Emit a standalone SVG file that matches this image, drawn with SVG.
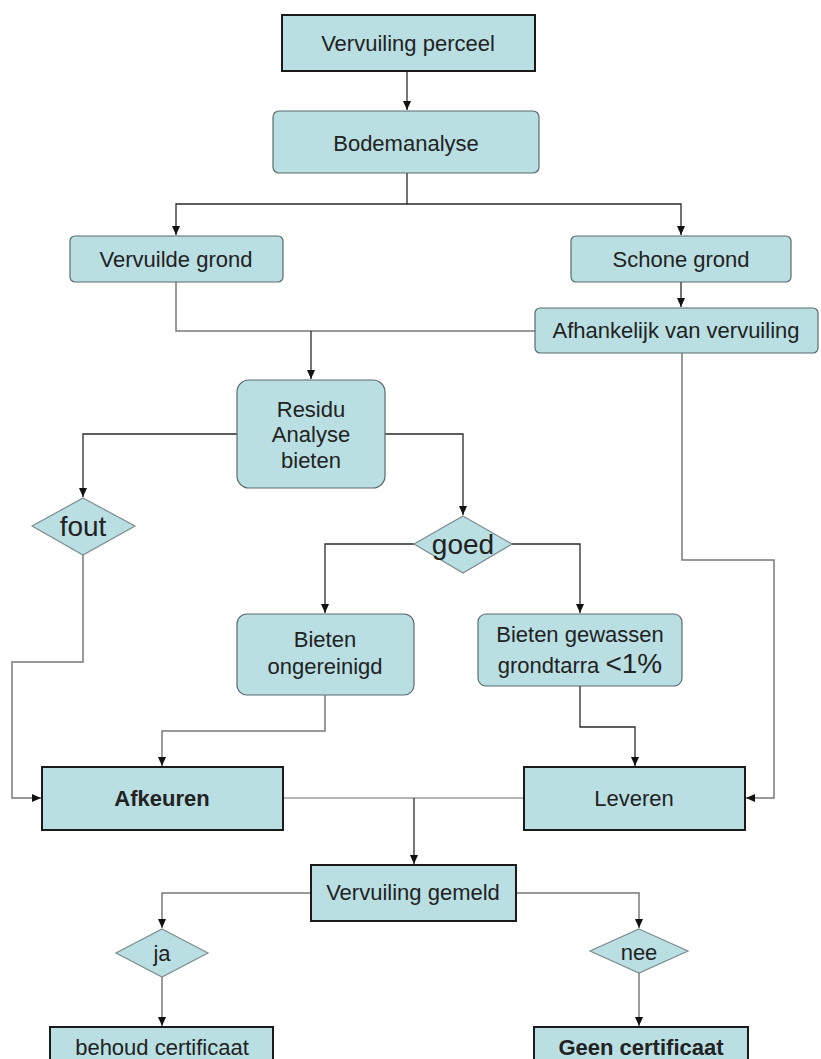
<svg xmlns="http://www.w3.org/2000/svg" width="821" height="1059" viewBox="0 0 821 1059">
<defs>
<style>
.box{fill:#b9dfe2;stroke:#5a6a6c;stroke-width:1.2}
.bx{fill:#b9dfe2;stroke:#1a1a1a;stroke-width:2}
.dia{fill:#b9dfe2;stroke:#7d8c8e;stroke-width:1.2}
text{font-family:"Liberation Sans",Arial,sans-serif;font-size:22px;fill:#222;text-anchor:middle}
.big{font-size:28px}
.b{font-weight:bold}
.dk{fill:none;stroke:#2a2a2a;stroke-width:1.3}
.gr{fill:none;stroke:#7a7a7a;stroke-width:1.5}
.lt{fill:none;stroke:#b5b5b5;stroke-width:2}
</style>
<marker id="ah" markerWidth="10" markerHeight="10" refX="9" refY="4" orient="auto" markerUnits="userSpaceOnUse">
<path d="M0,0 L9,4 L0,8 Z" fill="#111"/>
</marker>
</defs>
<rect width="821" height="1059" fill="#fff"/>
<g id="connectors">
<path class="dk" d="M407,71 V110" marker-end="url(#ah)"/>
<path class="dk" d="M407,173 V204 H176 V235" marker-end="url(#ah)"/>
<path class="dk" d="M407,204 H681 V235" marker-end="url(#ah)"/>
<path class="dk" d="M681,282 V307" marker-end="url(#ah)"/>
<path class="gr" d="M176,282 V331 H535"/>
<path class="dk" d="M311,331 V379" marker-end="url(#ah)"/>
<path class="dk" d="M237,434 H83 V497" marker-end="url(#ah)"/>
<path class="dk" d="M385,434 H463 V515" marker-end="url(#ah)"/>
<path class="dk" d="M414,544 H325 V613" marker-end="url(#ah)"/>
<path class="dk" d="M512,544 H580 V613" marker-end="url(#ah)"/>
<path class="gr" d="M83,555 V662 H12 V798 H41" marker-end="url(#ah)"/>
<path class="gr" d="M682,353 V560 H774 V798 H746" marker-end="url(#ah)"/>
<path class="gr" d="M325,695 V731 H162 V766" marker-end="url(#ah)"/>
<path class="dk" d="M580,686 V727 H635 V766" marker-end="url(#ah)"/>
<path class="lt" d="M283,798 H524"/>
<path class="dk" d="M414,798 V864" marker-end="url(#ah)"/>
<path class="gr" d="M311,893 H162 V928" marker-end="url(#ah)"/>
<path class="gr" d="M516,893 H639 V928" marker-end="url(#ah)"/>
<path class="gr" d="M162,977 V1026" marker-end="url(#ah)"/>
<path class="gr" d="M639,973 V1026" marker-end="url(#ah)"/>
</g>
<g id="n-perceel"><rect class="bx" x="282" y="15" width="253" height="56"/><text x="408" y="51">Vervuiling perceel</text></g>
<g id="n-bodem"><rect class="box" x="273" y="111" width="266" height="62" rx="6"/><text x="406" y="151">Bodemanalyse</text></g>
<g id="n-vervuilde"><rect class="box" x="70" y="236" width="213" height="46" rx="5"/><text x="176" y="267">Vervuilde grond</text></g>
<g id="n-schone"><rect class="box" x="571" y="236" width="220" height="46" rx="5"/><text x="681" y="267">Schone grond</text></g>
<g id="n-afhankelijk"><rect class="box" x="535" y="308" width="283" height="45" rx="5"/><text x="676" y="338">Afhankelijk van vervuiling</text></g>
<g id="n-residu"><rect class="box" x="237" y="380" width="148" height="108" rx="12"/><text x="311" y="417">Residu</text><text x="311" y="442">Analyse</text><text x="311" y="468">bieten</text></g>
<g id="n-fout"><polygon class="dia" points="83,498 135,526 83,555 32,526"/><text class="big" x="83" y="536">fout</text></g>
<g id="n-goed"><polygon class="dia" points="463,516 512,544 463,573 414,544"/><text class="big" x="463" y="554">goed</text></g>
<g id="n-ongereinigd"><rect class="box" x="237" y="614" width="177" height="81" rx="10"/><text x="325" y="647">Bieten</text><text x="325" y="674">ongereinigd</text></g>
<g id="n-gewassen"><rect class="box" x="478" y="614" width="204" height="72" rx="8"/><text x="580" y="642">Bieten gewassen</text><text x="580" y="673">grondtarra <tspan class="big">&lt;1%</tspan></text></g>
<g id="n-afkeuren"><rect class="bx" x="42" y="767" width="241" height="63"/><text class="b" x="162" y="806">Afkeuren</text></g>
<g id="n-leveren"><rect class="bx" x="524" y="767" width="221" height="63"/><text x="634" y="806">Leveren</text></g>
<g id="n-gemeld"><rect class="bx" x="311" y="865" width="205" height="56"/><text x="413" y="900">Vervuiling gemeld</text></g>
<g id="n-ja"><polygon class="dia" points="162,929 208,953 162,977 116,953"/><text x="162" y="961">ja</text></g>
<g id="n-nee"><polygon class="dia" points="639,929 688,951 639,973 590,951"/><text x="639" y="960">nee</text></g>
<g id="n-behoud"><rect class="bx" x="50" y="1027" width="223" height="45"/><text x="162" y="1055">behoud certificaat</text></g>
<g id="n-geen"><rect class="bx" x="534" y="1027" width="214" height="45"/><text class="b" x="641" y="1055">Geen certificaat</text></g>
</svg>
